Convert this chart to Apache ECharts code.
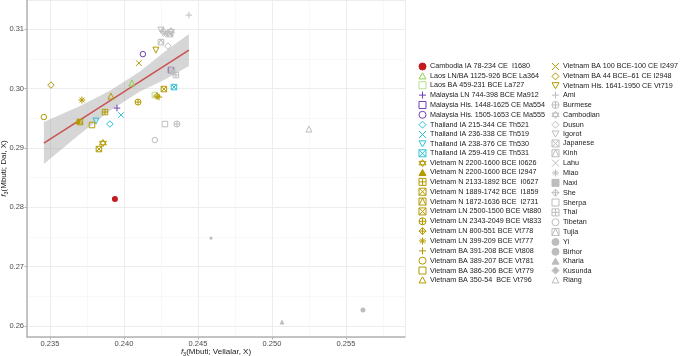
<!DOCTYPE html>
<html><head><meta charset="utf-8">
<script src="https://cdn.jsdelivr.net/npm/echarts@6/dist/echarts.min.js"></script>
<style>html,body{margin:0;padding:0;background:#fff}#c{width:685px;height:356px}</style>
</head><body><div id="c"></div>
<script>
// ---- data ----
const names = [
 'Cambodia IA 78-234 CE  I1680','Laos LN/BA 1125-926 BCE La364','Laos BA 459-231 BCE La727',
 'Malaysia LN 744-398 BCE Ma912','Malaysia His. 1448-1625 CE Ma554','Malaysia His. 1505-1653 CE Ma555',
 'Thailand IA 215-344 CE Th521','Thailand IA 236-338 CE Th519','Thailand IA 238-376 CE Th530',
 'Thailand IA 259-419 CE Th531','Vietnam N 2200-1600 BCE I0626','Vietnam N 2200-1600 BCE I2947',
 'Vietnam N 2133-1892 BCE  I0627','Vietnam N 1889-1742 BCE  I1859','Vietnam N 1872-1636 BCE  I2731',
 'Vietnam LN 2500-1500 BCE Vt880','Vietnam LN 2343-2049 BCE Vt833','Vietnam LN 800-551 BCE Vt778',
 'Vietnam LN 399-209 BCE Vt777','Vietnam BA 391-208 BCE Vt808','Vietnam BA 389-207 BCE Vt781',
 'Vietnam BA 386-206 BCE Vt779','Vietnam BA 350-54  BCE Vt796',
 'Vietnam BA 100 BCE-100 CE I2497','Vietnam BA 44 BCE\u201361 CE I2948','Vietnam His. 1641-1950 CE Vt719',
 'Ami','Burmese','Cambodian','Dusun','Igorot','Japanese','Kinh','Lahu','Miao','Naxi','She','Sherpa',
 'Thai','Tibetan','Tujia','Yi','Birhor','Kharia','Kusunda','Riang'
];
const xVals = [
 0.23939,0.24054,0.24209,0.23953,0.24318,0.24128,0.23905,0.23980,0.23811,0.24338,
 0.23858,0.23689,0.23872,0.23831,0.23703,0.24270,0.24095,0.24223,0.23716,0.24237,
 0.23459,0.23784,0.23912,0.24101,0.23507,0.24216,
 0.24439,0.24358,0.24318,0.24297,0.24250,0.24311,0.24250,0.24277,0.24284,0.24331,
 0.24264,0.24277,0.24351,0.24209,0.24324,0.24588,0.25615,0.25068,0.24324,0.25250
];
const yVals = [
 0.28138,0.30091,0.29889,0.29670,0.30310,0.30579,0.29401,0.29552,0.29451,0.30024,
 0.29081,0.29451,0.29603,0.28980,0.29434,0.29990,0.29771,0.29872,0.29805,0.29855,
 0.29519,0.29384,0.29872,0.30428,0.30057,0.30646,
 0.31236,0.29401,0.30966,0.30714,0.30983,0.30916,0.30781,0.30933,0.30916,0.30276,
 0.30966,0.29401,0.30226,0.29131,0.30310,0.27481,0.26269,0.26067,0.30899,0.29317
];
// regression fit and confidence band
const fitX = [0.23459, 0.24439];
const fitY = [0.29081, 0.30646];
const bandX  = [0.23459, 0.23703, 0.23905, 0.24108, 0.24277, 0.24439];
const bandLo = [0.28727, 0.29232, 0.29625, 0.29949, 0.30152, 0.30377];
const bandHi = [0.29434, 0.29704, 0.29961, 0.30286, 0.30623, 0.30916];
const legendCol1 = names.slice(0, 23);
const legendCol2 = names.slice(23);

// ---- styles ----
const markShape = ['fcirc','tri','sq','plus','sq','circ','diam','cross','trid','sqx',
 'star','ftri','sqplus','sqx','sqtri','sqx','circplus','diamplus','ast','plus',
 'circ','sq','tri','cross','diam','trid',
 'plus','circplus','star','diam','trid','sqx','sqtri','cross','ast','fsq',
 'diamplus','sq','sqplus','circ','sqtri','fcirc','fcirc','ftri','fdiam','tri'];
const markColor = ['R','G','L','P','P','P','C','C','C','C',
 'O','O','O','O','O','O','O','O','O','O','O','O','O','O','O','O',
 'Y','Y','Y','Y','Y','Y','Y','Y','Y','Y','Y','Y','Y','Y','Y','Y','Y','Y','Y','Y'];
const COLORS = {R:'#c41a1f',G:'#8fcf4f',L:'#b6df8a',P:'#6f3fb3',C:'#2ec3d6',O:'#b39a00',Y:'#bdbdbd'};
const SQ='M0,0L10,0L10,10L0,10Z';
const PATHS = {
 sq:'path://'+SQ, circ:'circle', tri:'path://M5,0L10,8.66L0,8.66Z', trid:'path://M0,0L10,0L5,8.66Z',
 plus:'path://M5,0L5,10M0,5L10,5', cross:'path://M0,0L10,10M10,0L0,10',
 diam:'path://M5,0L10,5L5,10L0,5Z', sqx:'path://'+SQ+'M0,0L10,10M10,0L0,10',
 ast:'path://M5,0L5,10M0,5L10,5M1.5,1.5L8.5,8.5M8.5,1.5L1.5,8.5',
 diamplus:'path://M5,0L10,5L5,10L0,5ZM5,0L5,10M0,5L10,5',
 circplus:'path://M0,5A5,5,0,1,1,10,5A5,5,0,1,1,0,5ZM5,0L5,10M0,5L10,5',
 star:'path://M5,0L10,7.5L0,7.5ZM5,10L0,2.5L10,2.5Z',
 sqplus:'path://'+SQ+'M5,0L5,10M0,5L10,5', sqtri:'path://'+SQ+'M0,10L5,0L10,10',
 fcirc:'circle', fsq:'path://'+SQ, ftri:'path://M5,0L10,8.66L0,8.66Z', fdiam:'path://M5,0L10,5L5,10L0,5Z'
};
const FILLED = {fcirc:1,fsq:1,ftri:1,fdiam:1};
const SIZE = {fcirc:6,fsq:5,ftri:6,fdiam:4,circ:5.5,tri:6,trid:6,diam:6.5,sq:5.5,plus:6.5,cross:5.5,ast:7,
 sqx:5.5,sqplus:5.5,sqtri:5.5,circplus:6,diamplus:6.5,star:7};

const XMIN=0.23345, XMAX=0.25899, YMIN=0.25815, YMAX=0.3149;
const FONT='Liberation Sans, Arial, sans-serif';

const series = names.map((n,i)=>{
  const sh = markShape[i], col = COLORS[markColor[i]];
  let size = SIZE[sh];
  if (n==='Yi') size = 3.2;
  if (n==='Birhor') size = 5;
  if (n==='Kusunda') size = 3.5;
  if (n==='Kharia') size = 5;
  return {
    type:'scatter', name:n, data:[[xVals[i], yVals[i]]], symbol:PATHS[sh], symbolSize:size,
    itemStyle: FILLED[sh] ? {color:col, borderColor:col, borderWidth:0, opacity:1}
                          : {color:'rgba(0,0,0,0)', borderColor:col, borderWidth:1, opacity:1},
    emphasis:{disabled:true}, z:5, animation:false
  };
});
series.unshift({
  type:'line', name:'fit', data: fitX.map((x,i)=>[x, fitY[i]]), showSymbol:false, symbol:'none',
  lineStyle:{color:'#c9504f', width:1.4}, z:4, silent:true, animation:false
});
series.unshift({
  type:'custom', name:'band', silent:true, z:1, animation:false,
  data:[[bandX[0], bandLo[0]]],
  renderItem:(params, api)=>{
    const pts=[];
    bandX.forEach((x,i)=>pts.push(api.coord([x, bandHi[i]])));
    for (let i=bandX.length-1;i>=0;i--) pts.push(api.coord([bandX[i], bandLo[i]]));
    return {type:'polygon', shape:{points:pts}, style:{fill:'rgba(153,153,153,0.4)'}};
  }
});

const legendCommon = {
  orient:'vertical', padding:0, itemWidth:7, itemHeight:7, itemGap:1.85, top:62.5,
  selectedMode:false,
  textStyle:{fontSize:7.2, lineHeight:7, color:'#1a1a1a', fontFamily:FONT, padding:[0,0,0,-1]},
  itemStyle:{borderWidth:1}
};
const nameRich = {
  i:{fontStyle:'italic', fontSize:8, fontFamily:FONT, color:'#1a1a1a'},
  s:{fontSize:5.5, fontFamily:FONT, color:'#1a1a1a', verticalAlign:'bottom', padding:[4,0,0,0]},
  n:{fontSize:8, fontFamily:FONT, color:'#1a1a1a'}
};

const chart = echarts.init(document.getElementById('c'), null, {renderer:'canvas'});
chart.setOption({
  animation:false,
  backgroundColor:'#ffffff',
  grid:{left:27, right:280, top:0, bottom:19, containLabel:false, outerBoundsMode:'none'},
  legend:[
    Object.assign({}, legendCommon, {left:418.5, data:legendCol1}),
    Object.assign({}, legendCommon, {left:551.5, data:legendCol2})
  ],
  xAxis:{
    type:'value', min:XMIN, max:XMAX, splitNumber:5,
    name:'{i|f}{s|3}{n|(Mbuti; Vellalar, X)}', nameLocation:'middle', nameGap:10, nameMoveOverlap:false,
    nameTextStyle:{rich:nameRich},
    axisLine:{show:true, lineStyle:{color:'#b3b3b3', width:1.5}},
    axisTick:{show:true, length:2.5, lineStyle:{color:'#b3b3b3', width:1}},
    axisLabel:{fontSize:7.5, color:'#4d4d4d', fontFamily:FONT, margin:3,
      showMinLabel:false, showMaxLabel:false, formatter:v=>v.toFixed(3)},
    splitLine:{show:true, lineStyle:{color:'#ebebeb', width:0.9}},
    minorTick:{show:false, splitNumber:2},
    minorSplitLine:{show:true, lineStyle:{color:'#f4f4f4', width:0.6}}
  },
  yAxis:{
    type:'value', min:YMIN, max:YMAX, splitNumber:5,
    name:'{i|f}{s|3}{n|(Mbuti; Dai, X)}', nameLocation:'middle', nameGap:18, nameRotate:90, nameMoveOverlap:false,
    nameTextStyle:{rich:nameRich},
    axisLine:{show:true, lineStyle:{color:'#b3b3b3', width:1.5}},
    axisTick:{show:true, length:2.5, lineStyle:{color:'#b3b3b3', width:1}},
    axisLabel:{fontSize:7.5, color:'#4d4d4d', fontFamily:FONT, margin:3,
      showMinLabel:false, showMaxLabel:false, formatter:v=>v.toFixed(2)},
    splitLine:{show:true, lineStyle:{color:'#ebebeb', width:0.9}},
    minorTick:{show:false, splitNumber:2},
    minorSplitLine:{show:true, lineStyle:{color:'#f4f4f4', width:0.6}}
  },
  series: series
});
</script></body></html>
